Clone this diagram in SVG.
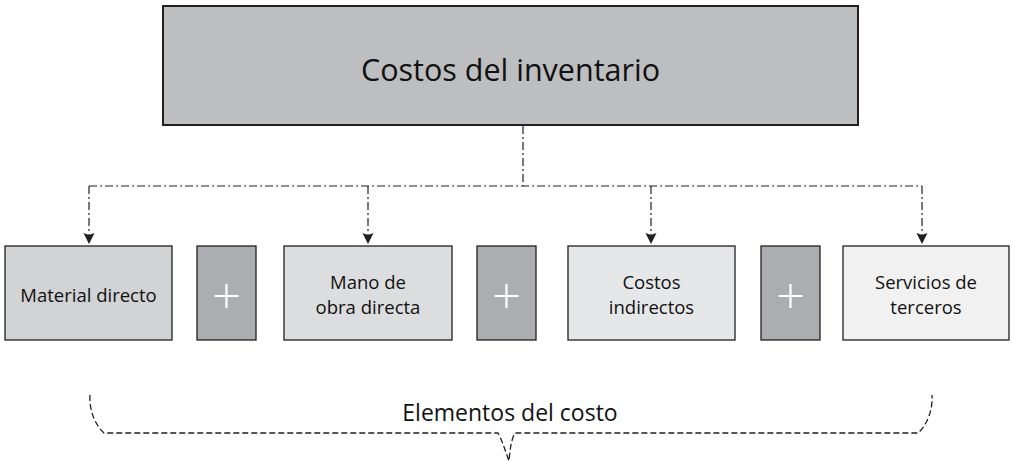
<svg xmlns="http://www.w3.org/2000/svg" width="1012" height="461" viewBox="0 0 1012 461">
<style>
.box{stroke:#231f20;stroke-width:1.3}
.plus{fill:#abadb0;stroke:#231f20;stroke-width:1.3}
.cross{stroke:#fff;stroke-width:2.2;fill:none}
.lbl{font-family:"Open Sans","Noto Sans",sans-serif;font-size:18.5px;fill:#111;text-anchor:middle}
.conn{fill:none;stroke:#231f20;stroke-width:1.2;stroke-dasharray:8 3 2 3}
.brace{fill:none;stroke:#231f20;stroke-width:1.3;stroke-dasharray:6 3}
</style>
<defs>
<marker id="ar" markerWidth="12" markerHeight="12" refX="11" refY="6" orient="auto" markerUnits="userSpaceOnUse">
<path d="M0,0.5 L11,6 L0,11.5 L2,6 Z" fill="#231f20"/>
</marker>
</defs>
<rect width="1012" height="461" fill="#fff"/>
<g id="top">
<rect x="163" y="6" width="695" height="119" fill="#bdbec0" stroke="#231f20" stroke-width="2"/>
<text x="510.5" y="81" font-family="'Open Sans','Noto Sans',sans-serif" font-size="30.5" fill="#111" text-anchor="middle">Costos del inventario</text>
</g>
<g id="connectors">
<path class="conn" d="M523,126 V186 M89,186 H922"/>
<path class="conn" d="M89,186 V244" marker-end="url(#ar)"/>
<path class="conn" d="M368,186 V244" marker-end="url(#ar)"/>
<path class="conn" d="M651,186 V244" marker-end="url(#ar)"/>
<path class="conn" d="M922,186 V244" marker-end="url(#ar)"/>
</g>
<g id="n1">
<rect class="box" x="5" y="246" width="167" height="94" fill="#d1d3d4"/>
<text class="lbl" x="88.5" y="302">Material directo</text>
</g>
<g id="p1">
<rect class="plus" x="197" y="246" width="59" height="94"/>
<path class="cross" d="M214.5,296 H238.5 M226.5,284 V308"/>
</g>
<g id="n2">
<rect class="box" x="284" y="246" width="168" height="94" fill="#dcddde"/>
<text class="lbl" x="368" y="289">Mano de</text>
<text class="lbl" x="368" y="314">obra directa</text>
</g>
<g id="p2">
<rect class="plus" x="477" y="246" width="59" height="94"/>
<path class="cross" d="M494.5,296 H518.5 M506.5,284 V308"/>
</g>
<g id="n3">
<rect class="box" x="568" y="246" width="167" height="94" fill="#e6e7e8"/>
<text class="lbl" x="651.5" y="289">Costos</text>
<text class="lbl" x="651.5" y="314">indirectos</text>
</g>
<g id="p3">
<rect class="plus" x="761" y="246" width="59" height="94"/>
<path class="cross" d="M778.5,296 H802.5 M790.5,284 V308"/>
</g>
<g id="n4">
<rect class="box" x="843" y="246" width="166" height="94" fill="#f1f1f2"/>
<text class="lbl" x="926" y="289">Servicios de</text>
<text class="lbl" x="926" y="314">terceros</text>
</g>
<g id="brace">
<path class="brace" d="M90,395 C89,410 95,425 104,433 H498 C502,440 505,450 509,461 C510,450 511,440 515,433 H918 C927,425 933,410 932,395"/>
<text x="510" y="421" font-family="'Open Sans','Noto Sans',sans-serif" font-size="23" fill="#111" text-anchor="middle">Elementos del costo</text>
</g>
</svg>
